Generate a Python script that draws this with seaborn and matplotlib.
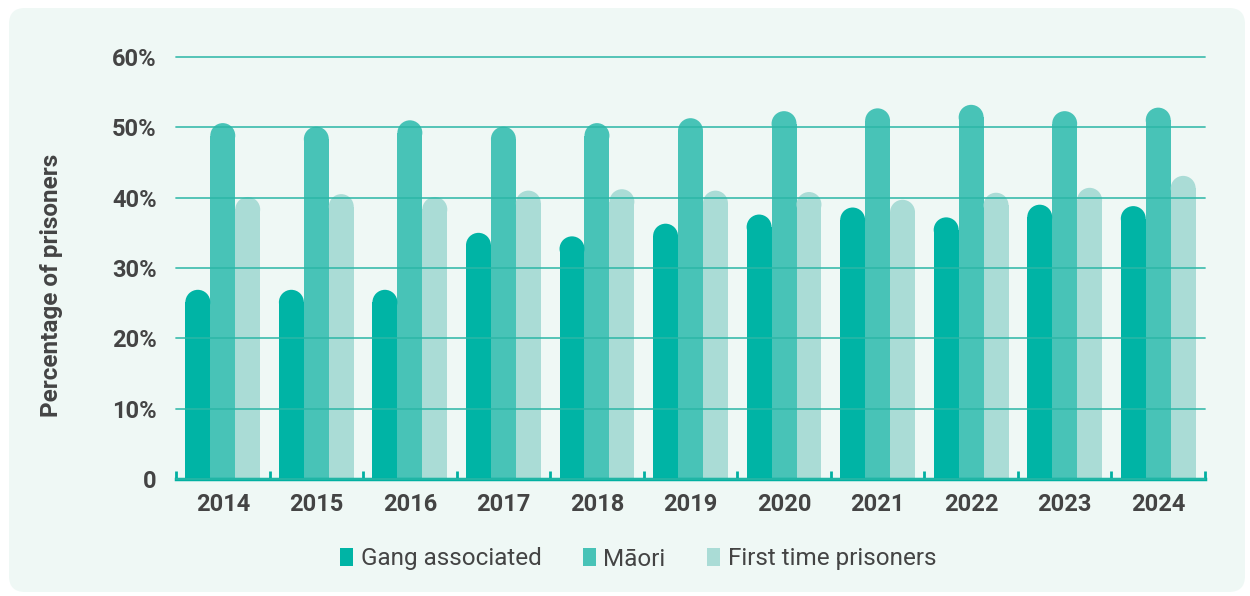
import matplotlib
matplotlib.use("Agg")
import numpy as np
import pandas as pd
import matplotlib.pyplot as plt
import seaborn as sns
from matplotlib.patches import Ellipse, FancyBboxPatch, Patch
from matplotlib.transforms import IdentityTransform

# values (percent)
years = ["2014", "2015", "2016", "2017", "2018", "2019", "2020", "2021", "2022", "2023", "2024"]
gang = [26.9, 26.9, 26.9, 35.0, 34.5, 36.3, 37.6, 38.6, 37.2, 39.0, 38.8]
maori = [50.6, 50.1, 51.0, 50.1, 50.6, 51.3, 52.3, 52.7, 53.2, 52.3, 52.8]
first_time = [40.1, 40.5, 40.1, 41.0, 41.2, 41.0, 40.8, 39.7, 40.7, 41.4, 43.1]

groups = ["Gang associated", "Māori", "First time prisoners"]
colors = ["#00b4a5", "#48c3b7", "#aadcd6"]
y_ticks = [0, 10, 20, 30, 40, 50, 60]
y_labels = ["0", "10%", "20%", "30%", "40%", "50%", "60%"]

df = pd.DataFrame({
    "year": years * 3,
    "group": [groups[0]] * len(years) + [groups[1]] * len(years) + [groups[2]] * len(years),
    "value": gang + maori + first_time,
})

sns.set_style("white")
plt.rcParams["font.family"] = ["Roboto", "DejaVu Sans"]
text_col = "#444444"
teal = "#00b0a1"

fig = plt.figure(figsize=(12.5, 5.96), dpi=100, facecolor="white")
# rounded mint panel behind everything
panel = FancyBboxPatch((9, 4), 1236, 584, boxstyle="round,pad=0,rounding_size=16",
                       transform=IdentityTransform(), facecolor="#eff8f5",
                       edgecolor="none", zorder=-5)
fig.patches.append(panel)

ax = fig.add_axes([176 / 1250, 117 / 596, 1029 / 1250, 422 / 596])
ax.set_facecolor("none")

sns.barplot(data=df, x="year", y="value", hue="group", hue_order=groups,
            palette=colors, width=0.8, saturation=1, errorbar=None,
            linewidth=0, legend=False, ax=ax)

ax.set_xlim(-0.5, 10.5)
ax.set_ylim(0, 60)

# round off the bar tops
px_x = ax.transData.transform((1, 0))[0] - ax.transData.transform((0, 0))[0]
px_y = ax.transData.transform((0, 1))[1] - ax.transData.transform((0, 0))[1]
for bar in list(ax.patches):
    x, w, h = bar.get_x(), bar.get_width(), bar.get_height()
    r = w * px_x / 2 / px_y
    bar.set_height(h - r)
    ax.add_patch(Ellipse((x + w / 2, h - r), w, 2 * r, facecolor=bar.get_facecolor(),
                         edgecolor="none", zorder=bar.get_zorder()))

# grid over the bars
ax.set_axisbelow(False)
ax.yaxis.grid(True, color="#2cb7a7", linewidth=1.3, alpha=0.85)
ax.xaxis.grid(False)

ax.set_yticks(y_ticks)
ax.set_yticklabels(y_labels)
ax.tick_params(axis="y", length=0, pad=14, labelsize=17, labelcolor=text_col)
for gl in ax.get_ygridlines():
    gl.set_clip_on(False)

ax.set_xticks(range(len(years)))
ax.set_xticklabels(years)
ax.tick_params(axis="x", which="major", bottom=True, length=0, pad=10,
               labelsize=17, labelcolor=text_col)
ax.set_xticks(np.arange(-0.5, len(years), 1), minor=True)
ax.tick_params(axis="x", which="minor", bottom=True, direction="in",
               length=6, width=2, color=teal)
for lab in ax.get_xticklabels() + ax.get_yticklabels():
    lab.set_fontweight("bold")

for side in ["top", "right", "left"]:
    ax.spines[side].set_visible(False)
ax.spines["bottom"].set_color(teal)
ax.spines["bottom"].set_linewidth(2.5)

ax.set_xlabel("")
ax.set_ylabel("Percentage of prisoners", fontsize=17.5, fontweight="bold", color=text_col)
ax.yaxis.set_label_coords(-0.11, 0.4585)

handles = [Patch(facecolor=c, edgecolor="none", label=g) for g, c in zip(groups, colors)]
fig.legend(handles=handles, loc="center", bbox_to_anchor=(638 / 1250, 1 - 559 / 596),
           ncol=3, frameon=False, fontsize=17.5, handlelength=0.55, handleheight=0.75,
           handletextpad=0.3, columnspacing=1.7, labelcolor=text_col)

fig.savefig("out.png", dpi=100)
